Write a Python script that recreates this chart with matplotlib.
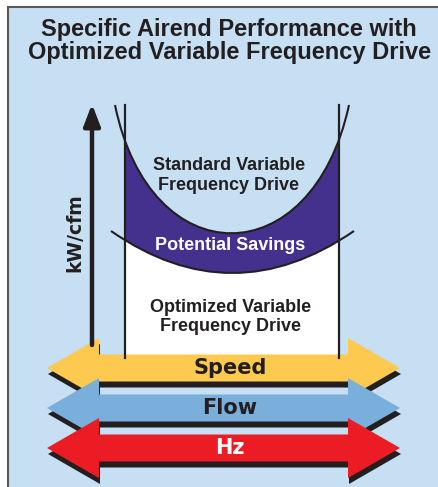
import numpy as np
import matplotlib
matplotlib.use("Agg")
import matplotlib.pyplot as plt
from matplotlib.patches import Rectangle, Polygon, PathPatch
from matplotlib.path import Path

# text content
title_lines = ["Specific Airend Performance with", "Optimized Variable Frequency Drive"]
standard_label = ["Standard Variable", "Frequency Drive"]
savings_label = "Potential Savings"
optimized_label = ["Optimized Variable", "Frequency Drive"]
y_label = "kW/cfm"
arrow_labels = ["Speed", "Flow", "Hz"]
arrow_colors = ["#fdc94f", "#7aaedb", "#ec1c24"]
arrow_text_colors = ["#231f20", "#231f20", "white"]

# curve anchor points (pixel coords): start, control(s), end
standard_curve = [(115, 105), (150, 276), (312, 276), (349, 105)]
optimized_curve = [(111, 231), (232, 315), (354, 231)]

bg = "#c6dff3"
ink = "#231f20"
purple = "#44318e"

fig = plt.figure(figsize=(4.39, 4.87), dpi=100)
ax = fig.add_axes([0, 0, 1, 1])
ax.set_xlim(0, 439)
ax.set_ylim(487, 0)
ax.axis("off")

# framed light blue panel
ax.add_patch(Rectangle((8, 7), 450, 500, facecolor=bg, edgecolor="#58595b", lw=1.5))

# title
ax.text(229, 36, title_lines[0], ha="center", va="baseline", fontsize=17,
        fontweight="bold", family="Liberation Sans", color=ink)
ax.text(230, 59, title_lines[1], ha="center", va="baseline", fontsize=17,
        fontweight="bold", family="Liberation Sans", color=ink)

left_x, right_x = 125, 339
top_y, bottom_y = 105, 358

# purple band, then blank out the inside of the standard curve and below the optimized one
ax.add_patch(Rectangle((left_x, top_y), right_x - left_x, 200, facecolor=purple, lw=0))

std_path = Path(standard_curve + [standard_curve[0]],
                [Path.MOVETO, Path.CURVE4, Path.CURVE4, Path.CURVE4, Path.CLOSEPOLY])
ax.add_patch(PathPatch(std_path, facecolor=bg, lw=0))

clip = Rectangle((left_x, top_y), right_x - left_x, bottom_y - top_y, transform=ax.transData)
opt_fill = Path(optimized_curve + [(354, bottom_y), (111, bottom_y), (111, 231)],
                [Path.MOVETO, Path.CURVE3, Path.CURVE3, Path.LINETO, Path.LINETO, Path.CLOSEPOLY])
white = PathPatch(opt_fill, facecolor="white", lw=0)
ax.add_patch(white)
white.set_clip_path(clip)

# curve outlines
ax.add_patch(PathPatch(Path(standard_curve, [Path.MOVETO, Path.CURVE4, Path.CURVE4, Path.CURVE4]),
                       facecolor="none", edgecolor=ink, lw=1.5))
ax.add_patch(PathPatch(Path(optimized_curve, [Path.MOVETO, Path.CURVE3, Path.CURVE3]),
                       facecolor="none", edgecolor=ink, lw=1.5))
ax.plot([left_x, left_x], [top_y, bottom_y], color=ink, lw=1.6)
ax.plot([right_x, right_x], [top_y, bottom_y], color=ink, lw=1.6)

# region labels
for i, line in enumerate(standard_label):
    ax.text(229, 170 + 20 * i, line, ha="center", va="baseline", fontsize=13,
            fontweight="bold", family="Liberation Sans", color=ink)
ax.text(230.5, 250, savings_label, ha="center", va="baseline", fontsize=13,
        fontweight="bold", family="Liberation Sans", color="white")
for i, line in enumerate(optimized_label):
    ax.text(230.5, 312 + 19 * i, line, ha="center", va="baseline", fontsize=13,
            fontweight="bold", family="Liberation Sans", color=ink)

# vertical axis arrow
ax.annotate("", xy=(92, 104), xytext=(92, 345),
            arrowprops=dict(arrowstyle="-|>,head_length=1.3,head_width=0.5", color=ink, lw=3.2,
                            shrinkA=0, shrinkB=0))
ax.text(75, 233, y_label, rotation=90, ha="center", va="center", fontsize=13.5,
        fontweight="bold", family="DejaVu Sans", color=ink)

# double-headed arrows
tip_l, tip_r = 47, 400
base_l, base_r = 99, 348
shaft_h, head_h = 13.5, 30
centers = [368, 408, 448]
for cy, lab, col, tcol in zip(centers, arrow_labels, arrow_colors, arrow_text_colors):
    pts = np.array([
        (tip_l, cy), (base_l, cy - head_h), (base_l, cy - shaft_h), (base_r, cy - shaft_h),
        (base_r, cy - head_h), (tip_r, cy), (base_r, cy + head_h), (base_r, cy + shaft_h),
        (base_l, cy + shaft_h), (base_l, cy + head_h)])
    ax.add_patch(Polygon(pts + [1, 6], closed=True, facecolor=ink, lw=0))
    ax.add_patch(Polygon(pts, closed=True, facecolor=col, lw=0))
    ax.text(230, cy + 6, lab, ha="center", va="baseline", fontsize=15,
            fontweight="bold", family="DejaVu Sans", color=tcol)

fig.savefig("out.png", dpi=100)
